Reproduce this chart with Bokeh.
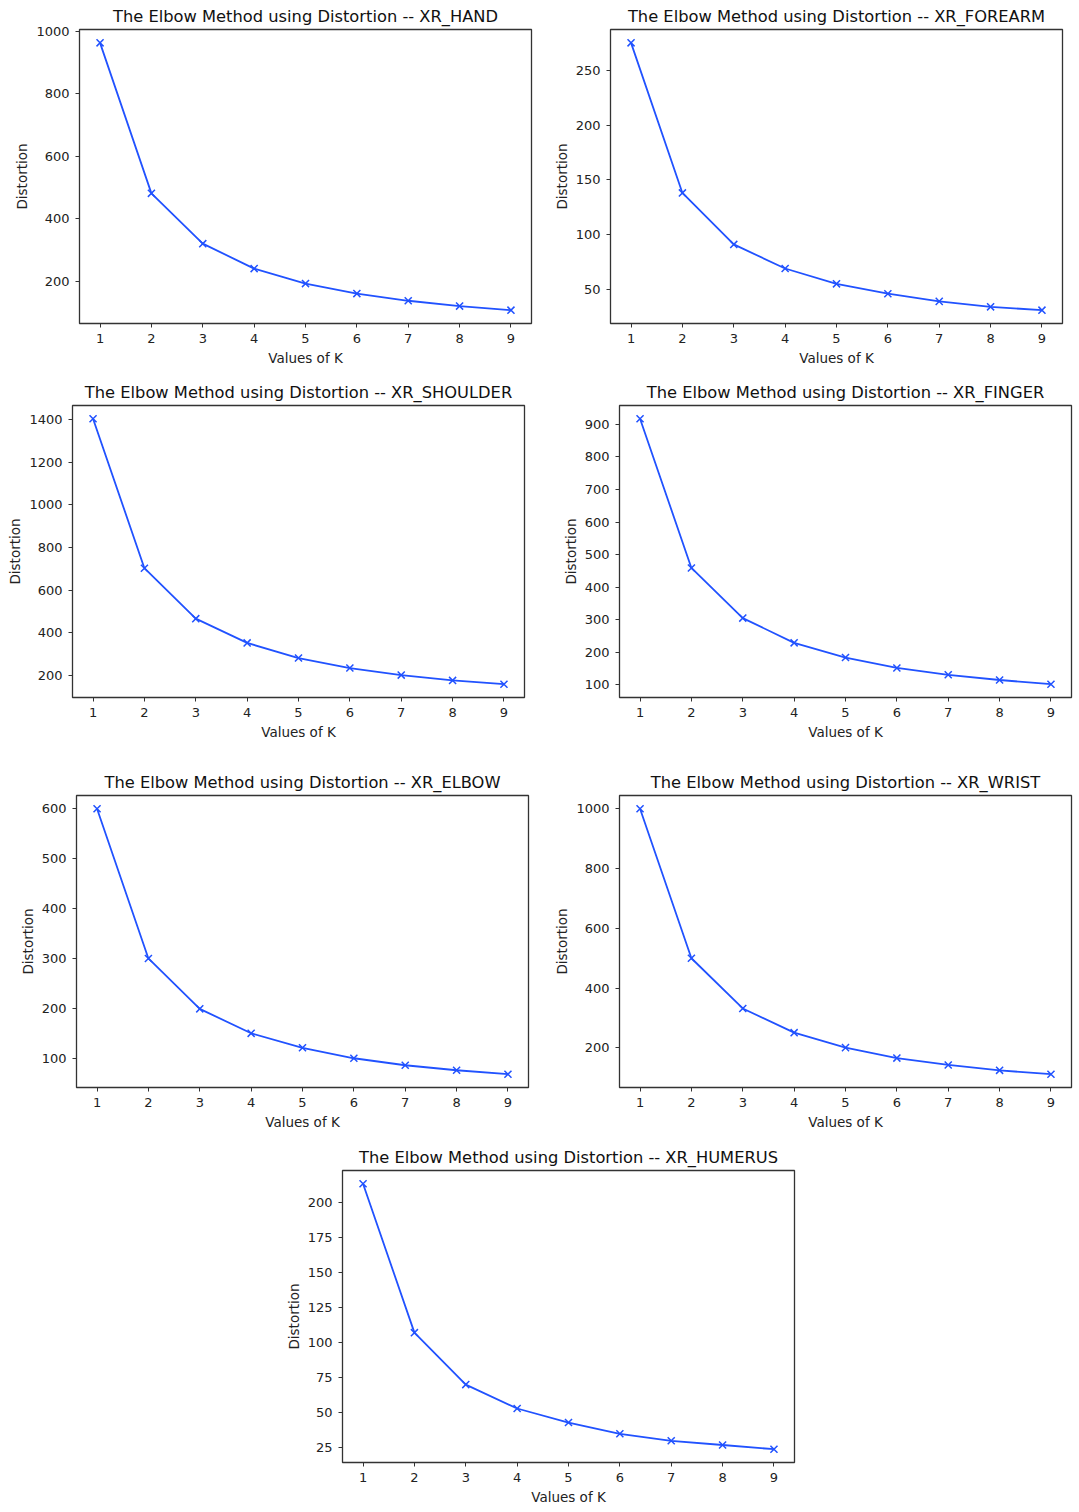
from bokeh.plotting import figure
from bokeh.layouts import column, row, Spacer
from bokeh.models import FixedTicker, Range1d
from bokeh.embed import file_html
from bokeh.resources import INLINE

# ---------------- data ----------------
K = [1, 2, 3, 4, 5, 6, 7, 8, 9]

hand = [963, 481, 320, 240, 192, 160, 137, 120, 107]
forearm = [275, 138, 91, 69, 55, 46, 39, 34, 31]
shoulder = [1405, 703, 466, 352, 281, 234, 201, 176, 158]
finger = [917, 459, 305, 229, 184, 152, 131, 115, 102]
elbow = [600, 300, 199, 150, 121, 100, 86, 76, 68]
wrist = [1000, 500, 332, 251, 201, 166, 143, 125, 112]
humerus = [213, 107, 70, 53, 43, 35, 30, 27, 24]

hand_ticks = [200, 400, 600, 800, 1000]
forearm_ticks = [50, 100, 150, 200, 250]
shoulder_ticks = [200, 400, 600, 800, 1000, 1200, 1400]
finger_ticks = [100, 200, 300, 400, 500, 600, 700, 800, 900]
elbow_ticks = [100, 200, 300, 400, 500, 600]
wrist_ticks = [200, 400, 600, 800, 1000]
humerus_ticks = [25, 50, 75, 100, 125, 150, 175, 200]

names = ["XR_HAND", "XR_FOREARM", "XR_SHOULDER", "XR_FINGER",
         "XR_ELBOW", "XR_WRIST", "XR_HUMERUS"]

TITLE_FMT = "The Elbow Method using Distortion -- {}"
X_LABEL = "Values of K"
Y_LABEL = "Distortion"

# ---------------- style ----------------
FONT = "DejaVu Sans"
LINE_COLOR = "#2152ff"
FRAME_W = 452


def make(name, ys, yticks, left, right, top, frame_h, bottom):
    lo, hi = min(ys), max(ys)
    pad = 0.05 * (hi - lo)
    kx = 0.05 * (max(K) - min(K))
    p = figure(width=left + FRAME_W + right, height=top + frame_h + bottom,
               output_backend="svg", toolbar_location=None,
               x_range=Range1d(min(K) - kx, max(K) + kx),
               y_range=Range1d(lo - pad, hi + pad),
               min_border_left=left, min_border_right=right,
               min_border_top=top, min_border_bottom=bottom,
               title=TITLE_FMT.format(name))
    p.title.align = "center"
    p.title.text_font = FONT
    p.title.text_font_size = "16.3px"
    p.title.text_font_style = "normal"
    p.title.text_color = "#111111"
    p.title.standoff = 8
    p.title.offset = 0

    p.line(K, ys, line_color=LINE_COLOR, line_width=1.8)
    p.scatter(K, ys, marker="x", size=10, line_color=LINE_COLOR, line_width=1.5)

    p.xgrid.visible = False
    p.ygrid.visible = False
    p.outline_line_color = "#333333"
    p.outline_line_width = 1.3
    p.outline_line_alpha = 1.0
    p.background_fill_color = "white"
    p.border_fill_color = "white"

    p.xaxis.ticker = FixedTicker(ticks=K)
    p.yaxis.ticker = FixedTicker(ticks=yticks)
    p.xaxis.axis_label = X_LABEL
    p.yaxis.axis_label = Y_LABEL
    for ax in (p.xaxis, p.yaxis):
        ax.axis_line_color = None
        ax.minor_tick_line_color = None
        ax.major_tick_in = 0
        ax.major_tick_out = 4
        ax.major_tick_line_color = "#333333"
        ax.major_tick_line_width = 1
        ax.major_label_text_font = FONT
        ax.major_label_text_font_size = "13px"
        ax.major_label_text_color = "#222222"
        ax.major_label_standoff = 6
        ax.axis_label_text_font = FONT
        ax.axis_label_text_font_size = "13.5px"
        ax.axis_label_text_font_style = "normal"
        ax.axis_label_text_color = "#222222"
    p.xaxis.axis_label_standoff = 4
    p.yaxis.axis_label_standoff = 3
    p.yaxis.major_label_orientation = "horizontal"
    return p


p1 = make(names[0], hand, hand_ticks, 79, 10, 29, 294, 53)
p2 = make(names[1], forearm, forearm_ticks, 69, 10, 29, 294, 53)
p3 = make(names[2], shoulder, shoulder_ticks, 72, 10, 28, 293, 69)
p4 = make(names[3], finger, finger_ticks, 85, 6, 28, 293, 69)
p5 = make(names[4], elbow, elbow_ticks, 76, 10, 28, 293, 54)
p6 = make(names[5], wrist, wrist_ticks, 81, 6, 28, 293, 54)
p7 = make(names[6], humerus, humerus_ticks, 74, 10, 28, 293, 46)

layout = column(
    row(p1, p2),
    row(p3, p4),
    row(p5, p6),
    row(Spacer(width=268, height=10), p7),
)

open("out.html", "w").write(file_html(layout, INLINE))
